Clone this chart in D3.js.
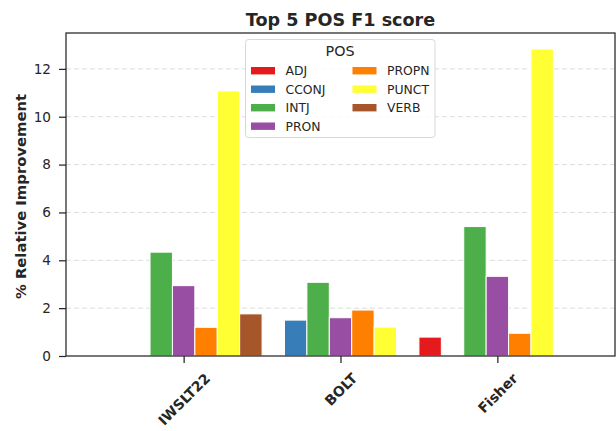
<!DOCTYPE html>
<html><head><meta charset="utf-8">
<script src="https://cdn.jsdelivr.net/npm/d3@7"></script>
<style>body{margin:0;background:#fff}svg{display:block;font-family:"DejaVu Sans",sans-serif}</style>
</head><body>
<svg id="c" width="616" height="431"></svg>
<script>
const categories = ["IWSLT22", "BOLT", "Fisher"];
const posTags = ["ADJ", "CCONJ", "INTJ", "PRON", "PROPN", "PUNCT", "VERB"];
const colors = ["#e41a1c", "#377eb8", "#4daf4a", "#984ea3", "#ff7f00", "#ffff33", "#a65628"];
const ADJ   = [null, null, 0.79];
const CCONJ = [null, 1.50, null];
const INTJ  = [4.34, 3.08, 5.41];
const PRON  = [2.94, 1.60, 3.33];
const PROPN = [1.20, 1.92, 0.95];
const PUNCT = [11.08, 1.21, 12.83];
const VERB  = [1.76, null, null];
const yTicks = [0, 2, 4, 6, 8, 10, 12];
const series = [ADJ, CCONJ, INTJ, PRON, PROPN, PUNCT, VERB];

const svg = d3.select("#c");
const L = 66, R = 615, T = 33, B = 356;
const ink = "#262626";
const x = d3.scaleLinear().domain([-0.75, 2.75]).range([L, R]);
const y = d3.scaleLinear().domain([0, 13.5]).range([B, T]);
const nH = posTags.length, bw = 1 / nH;

// grid
svg.append("g").selectAll("line").data(yTicks.filter(d => d > 0)).join("line")
  .attr("x1", L).attr("x2", R).attr("y1", d => y(d)).attr("y2", d => y(d))
  .attr("stroke", "#dcdcdc").attr("stroke-width", 1).attr("stroke-dasharray", "5,3");

// bars
const bars = [];
series.forEach((vals, j) => vals.forEach((v, i) => {
  if (v != null) bars.push({i, j, v});
}));
svg.append("g").selectAll("rect").data(bars).join("rect")
  .attr("x", d => x(d.i + (d.j - (nH - 1) / 2) * bw - bw / 2))
  .attr("width", d => x(bw) - x(0))
  .attr("y", d => y(d.v)).attr("height", d => y(0) - y(d.v))
  .attr("fill", d => colors[d.j]).attr("stroke", "#fff").attr("stroke-width", 1);

// axes
const yAxis = d3.axisLeft(y).tickValues(yTicks).tickSize(7).tickPadding(8).tickFormat(d3.format("d"));
const yg = svg.append("g").attr("transform", `translate(${L},0)`).call(yAxis);
yg.select(".domain").remove();
yg.selectAll("line").attr("stroke", ink).attr("stroke-width", 1.25);
yg.selectAll("text").attr("fill", ink).style("font-size", "13.6px").style("font-family", "DejaVu Sans");

const xAxis = d3.axisBottom(x).tickValues([0, 1, 2]).tickSize(7).tickFormat(d => categories[d]);
const xg = svg.append("g").attr("transform", `translate(0,${B})`).call(xAxis);
xg.select(".domain").remove();
xg.selectAll("line").attr("stroke", ink).attr("stroke-width", 1.25);
xg.selectAll("text").attr("fill", ink).style("font-size", "14px").style("font-weight", "bold")
  .style("font-family", "DejaVu Sans")
  .each(function(d) {
    const t = d3.select(this);
    const w = this.getComputedTextLength();
    const h = 14 * 1.17;
    const bb = (w + h) / Math.SQRT2;
    const cy = 14 + bb / 2;
    t.attr("x", 0).attr("y", 0).attr("dy", "0.35em").attr("text-anchor", "middle")
     .attr("transform", `translate(0,${cy}) rotate(-45)`);
  });

// frame
svg.append("rect").attr("x", L).attr("y", T).attr("width", R - L).attr("height", B - T)
  .attr("fill", "none").attr("stroke", ink).attr("stroke-width", 1.25);

// labels
svg.append("text").attr("x", (L + R) / 2).attr("y", 26).attr("text-anchor", "middle")
  .attr("fill", ink).style("font-size", "17.6px").style("font-weight", "bold").text("Top 5 POS F1 score");
svg.append("text").attr("transform", `translate(25.5,${(T + B) / 2 + 2}) rotate(-90)`).attr("text-anchor", "middle")
  .attr("fill", ink).style("font-size", "14.8px").style("font-weight", "bold").text("% Relative Improvement");

// legend
const lg = svg.append("g");
lg.append("rect").attr("x", 245.5).attr("y", 39.5).attr("width", 189.5).attr("height", 98)
  .attr("rx", 3).attr("fill", "#fff").attr("fill-opacity", 0.8).attr("stroke", "#d8d8d8").attr("stroke-width", 1);
lg.append("text").attr("x", 340).attr("y", 56).attr("text-anchor", "middle").attr("fill", ink)
  .style("font-size", "14.3px").text("POS");
posTags.forEach((p, k) => {
  const col = k < 4 ? 0 : 1, row = k < 4 ? k : k - 4;
  const px = col === 0 ? 251 : 352.5, tx = col === 0 ? 285.5 : 387;
  const cy = 70.7 + row * 18.5;
  lg.append("rect").attr("x", px).attr("y", cy - 3.7).attr("width", 24).attr("height", 7.4).attr("fill", colors[k]);
  lg.append("text").attr("x", tx).attr("y", cy).attr("dy", "0.36em").attr("fill", ink)
    .style("font-size", "12.4px").text(p);
});
</script>
</body></html>
